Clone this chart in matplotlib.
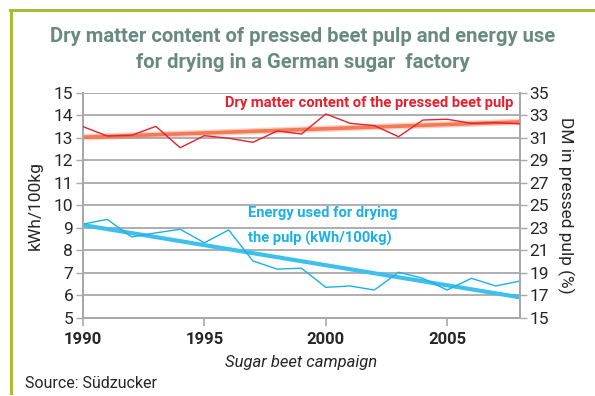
import numpy as np
import matplotlib
matplotlib.use("Agg")
import matplotlib.pyplot as plt
from matplotlib.lines import Line2D

# Campaign years and measured series
years = list(range(1990, 2009))
energy_kwh = [9.16, 9.37, 8.59, 8.77, 8.93, 8.33, 8.90, 7.52, 7.16, 7.20,
              6.35, 6.41, 6.23, 7.02, 6.75, 6.23, 6.75, 6.41, 6.63]
dry_matter_pct = [31.98, 31.15, 31.21, 32.01, 30.11, 31.18, 30.95, 30.59, 31.60, 31.33,
                  33.11, 32.28, 32.07, 31.09, 32.57, 32.64, 32.28, 32.33, 32.24]

left_ticks = list(range(5, 16))
right_ticks = list(range(15, 36, 2))
x_ticks = [1990, 1995, 2000, 2005]

title_lines = ["Dry matter content of pressed beet pulp and energy use",
               "for drying in a German sugar  factory"]
red_label = "Dry matter content of the pressed beet pulp"
blue_lines = ["Energy used for drying", "the pulp (kWh/100kg)"]

plt.rcParams["font.family"] = ["Roboto", "DejaVu Sans"]

RED = "#e6202c"
RED_TREND = "#f27a56"
BLUE = "#1bb0e6"
BLUE_TREND = "#3ec0ec"
GRID = "#a8a8a8"
FRAME = "#a7bf35"
TITLE_C = "#698a80"
INK = "#262626"

W, H = 595, 396
fig = plt.figure(figsize=(W / 100, H / 100), dpi=100)
renderer = fig.canvas.get_renderer()


def fit_width(artist, target_px):
    """Scale a text's font size so its rendered width is target_px."""
    for _ in range(3):
        w = artist.get_window_extent(renderer).width
        artist.set_fontsize(artist.get_fontsize() * target_px / w)


# Decorative frame: top and left rules
fig.add_artist(Line2D([10 / W, 1.0], [1 - 10 / H, 1 - 10 / H], color=FRAME, lw=2.2,
                      transform=fig.transFigure))
fig.add_artist(Line2D([11 / W, 11 / W], [1 - 10 / H, 1 - 393 / H], color=FRAME, lw=2.2,
                      transform=fig.transFigure))

ax = fig.add_axes([83 / W, 1 - 317.7 / H, (520 - 83) / W, (317.7 - 92.7) / H])
ax2 = ax.twinx()

x = np.array(years, dtype=float)
e = np.array(energy_kwh)
d = np.array(dry_matter_pct)

# Gridlines on the left scale
for v in left_ticks[1:]:
    ax.axhline(v, color=GRID, lw=1.3, zorder=0)

ax.set_xlim(1990, 2008)
ax.set_ylim(5, 15)
ax2.set_ylim(15, 35)
ax.set_yticks(left_ticks)
ax2.set_yticks(right_ticks)
ax.set_xticks(x_ticks)
ax.set_xticklabels([str(t) for t in x_ticks], fontweight="bold", fontsize=12, color=INK)
ax.tick_params(axis="x", length=6, width=1.2, color=GRID, pad=4)
ax.tick_params(axis="y", length=5, width=1.0, color=GRID, labelsize=12.5, labelcolor=INK, pad=2)
ax2.tick_params(axis="y", length=5, width=1.0, color=GRID, labelsize=12.5, labelcolor=INK, pad=2)

for a in (ax, ax2):
    a.spines["top"].set_visible(False)
    for s in ("left", "right", "bottom"):
        a.spines[s].set_color(GRID)
        a.spines[s].set_linewidth(1.4)

# Trend lines (least-squares fits)
pe = np.polyfit(x, e, 1)
pd_ = np.polyfit(x, d, 1)
ax.plot(x, np.polyval(pe, x), color=BLUE_TREND, lw=3.0, solid_capstyle="butt", zorder=2)
ax2.plot(x, np.polyval(pd_, x), color=RED_TREND, lw=4.6, alpha=0.35, solid_capstyle="butt", zorder=2)
ax2.plot(x, np.polyval(pd_, x), color=RED_TREND, lw=2.6, solid_capstyle="butt", zorder=2)

# Raw series
ax.plot(x, e, color=BLUE, lw=1.0, zorder=3)
ax2.plot(x, d, color=RED, lw=1.0, zorder=3)

ax.set_ylabel("kWh/100kg", fontsize=12.5, color=INK, labelpad=8)
ax2.set_ylabel("DM in pressed pulp (%)", fontsize=12.5, color=INK,
               rotation=270, labelpad=18)
ax.set_xlabel("Sugar beet campaign", fontsize=12, style="italic", color=INK, labelpad=6)

t_red = fig.text(513 / W, 1 - 103 / H, red_label, color=RED, fontsize=12, fontweight="bold",
                 ha="right", va="center")
fit_width(t_red, 288)
t_b1 = fig.text(248 / W, 1 - 213 / H, blue_lines[0], color=BLUE, fontsize=12, fontweight="bold",
                ha="left", va="center")
fit_width(t_b1, 149)
t_b2 = fig.text(248 / W, 1 - 238 / H, blue_lines[1], color=BLUE, fontsize=t_b1.get_fontsize(),
                fontweight="bold", ha="left", va="center")

t1 = fig.text(303 / W, 1 - 36 / H, title_lines[0], ha="center", va="center", fontsize=16,
              fontweight="bold", color=TITLE_C)
fit_width(t1, 505)
fig.text(303 / W, 1 - 62 / H, title_lines[1], ha="center", va="center",
         fontsize=t1.get_fontsize(), fontweight="bold", color=TITLE_C)
fig.text(25 / W, 1 - 383 / H, "Source: Südzucker", ha="left", va="center",
         fontsize=11.5, color=INK)

fig.savefig("out.png", dpi=100)
